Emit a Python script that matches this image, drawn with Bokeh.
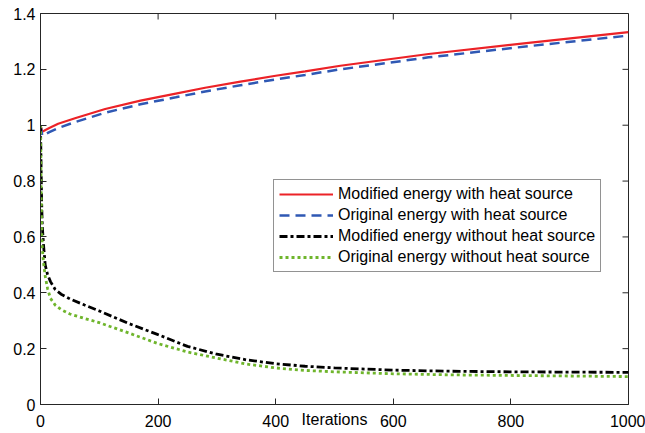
from bokeh.plotting import figure
from bokeh.models import FixedTicker, Legend, LegendItem, Range1d
from bokeh.embed import file_html
from bokeh.resources import INLINE

# ---- data ----
x_heat = [0, 3, 6, 15, 30, 60, 110, 170, 230, 280, 340, 400, 450, 510, 660, 830, 1000]
mod_heat = [1.0, 0.977, 0.98, 0.99, 1.005, 1.026, 1.058, 1.088, 1.113, 1.134, 1.156,
            1.177, 1.193, 1.213, 1.255, 1.295, 1.333]
orig_heat = [1.0, 0.962, 0.965, 0.975, 0.99, 1.012, 1.045, 1.075, 1.1, 1.121, 1.143,
             1.164, 1.18, 1.2, 1.243, 1.283, 1.321]

x_noheat = [0, 1, 2, 3, 5, 8, 12, 17, 25, 35, 50, 75, 100, 150, 200, 250, 300, 350,
            400, 450, 500, 600, 700, 800, 900, 1000]
mod_noheat = [1.0, 0.85, 0.72, 0.64, 0.575, 0.5, 0.465, 0.44, 0.412, 0.395, 0.378,
              0.356, 0.335, 0.29, 0.25, 0.208, 0.18, 0.16, 0.146, 0.137, 0.131,
              0.123, 0.119, 0.117, 0.116, 0.115]
orig_noheat = [1.0, 0.78, 0.63, 0.56, 0.51, 0.46, 0.415, 0.38, 0.356, 0.34, 0.324,
               0.308, 0.293, 0.256, 0.218, 0.188, 0.166, 0.145, 0.131, 0.122, 0.117,
               0.11, 0.106, 0.104, 0.102, 0.1]

series_names = ["Modified energy with heat source", "Original energy with heat source",
                "Modified energy without heat source", "Original energy without heat source"]

x_ticks = [0, 200, 400, 600, 800, 1000]
x_tick_labels = ["0", "200", "400", "600", "800", "1000"]
y_ticks = [0, 0.2, 0.4, 0.6, 0.8, 1, 1.2, 1.4]
y_tick_labels = ["0", "0.2", "0.4", "0.6", "0.8", "1", "1.2", "1.4"]
x_label = "Iterations"

FONT = "Liberation Sans"
AX = "#262626"
TICK = 6

p = figure(width=645, height=433, output_backend="svg", toolbar_location=None,
           x_range=Range1d(x_ticks[0], x_ticks[-1]), y_range=Range1d(y_ticks[0], y_ticks[-1]),
           min_border_left=40, min_border_right=17, min_border_top=13, min_border_bottom=29)
p.xgrid.visible = False
p.ygrid.visible = False
p.outline_line_color = AX
p.outline_line_width = 1
p.background_fill_color = "white"
p.border_fill_color = "white"

def style(ax, ticks, labels):
    ax.ticker = FixedTicker(ticks=ticks)
    ax.major_label_overrides = {t: l for t, l in zip(ticks, labels)}
    ax.major_tick_in = TICK
    ax.major_tick_out = 0
    ax.minor_tick_in = 0
    ax.minor_tick_out = 0
    ax.axis_line_color = AX
    ax.major_tick_line_color = AX
    ax.axis_line_width = 1
    ax.major_label_text_font = FONT
    ax.major_label_text_color = "#000000"
    ax.major_label_text_font_size = "16px"

style(p.xaxis[0], x_ticks, x_tick_labels)
style(p.yaxis[0], y_ticks, y_tick_labels)
p.xaxis[0].major_label_standoff = 10
p.yaxis[0].major_label_standoff = 5

# MATLAB-style label sitting in the tick-label row
p.xaxis[0].axis_label = x_label
p.xaxis[0].axis_label_text_font = FONT
p.xaxis[0].axis_label_text_font_size = "16px"
p.xaxis[0].axis_label_text_font_style = "normal"
p.xaxis[0].axis_label_text_color = "#000000"
p.xaxis[0].axis_label_standoff = -19

# inward ticks on the top and right edges of the box
p.ray(x=x_ticks, y=[y_ticks[-1]] * len(x_ticks), length=TICK, length_units="screen",
      angle=-90, angle_units="deg", line_color=AX, line_width=1)
p.ray(x=[x_ticks[-1]] * len(y_ticks), y=y_ticks, length=TICK, length_units="screen",
      angle=180, angle_units="deg", line_color=AX, line_width=1)

r1 = p.line(x_heat, mod_heat, line_color="#ec2227", line_width=2.2)
r2 = p.line(x_heat, orig_heat, line_color="#2f58b4", line_width=2.5, line_dash="10 6")
r3 = p.line(x_noheat, mod_noheat, line_color="#000000", line_width=2.8, line_dash="8 3 3 3")
r4 = p.line(x_noheat, orig_noheat, line_color="#6fb52c", line_width=2.8, line_dash="3 3")

legend = Legend(items=[LegendItem(label=series_names[0], renderers=[r1]),
                       LegendItem(label=series_names[1], renderers=[r2]),
                       LegendItem(label=series_names[2], renderers=[r3]),
                       LegendItem(label=series_names[3], renderers=[r4])],
                location=(233, 132))
legend.label_text_font = FONT
legend.label_text_font_size = "16px"
legend.label_text_color = "#000000"
legend.glyph_width = 54
legend.glyph_height = 18
legend.label_height = 18
legend.label_standoff = 5
legend.spacing = 3
legend.padding = 5
legend.margin = 0
legend.border_line_color = AX
legend.border_line_width = 1
legend.background_fill_color = "white"
legend.background_fill_alpha = 1
p.add_layout(legend, "center")

open("out.html", "w").write(file_html(p, INLINE))
